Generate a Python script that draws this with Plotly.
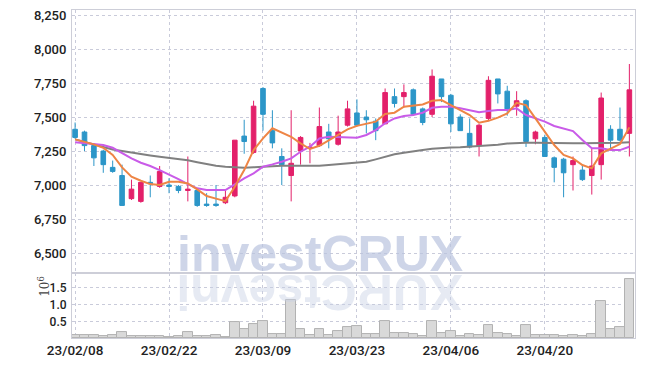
import plotly.graph_objects as go
from plotly.subplots import make_subplots

dates = ["23/02/08","23/02/09","23/02/10","23/02/13","23/02/14","23/02/15","23/02/16","23/02/17","23/02/20","23/02/21",
         "23/02/22","23/02/23","23/02/24","23/02/27","23/02/28","23/03/02","23/03/03","23/03/06","23/03/07","23/03/08",
         "23/03/09","23/03/10","23/03/13","23/03/14","23/03/15","23/03/16","23/03/17","23/03/20","23/03/21","23/03/22",
         "23/03/23","23/03/24","23/03/27","23/03/28","23/03/29","23/03/30","23/03/31","23/04/03","23/04/04","23/04/05",
         "23/04/06","23/04/07","23/04/10","23/04/11","23/04/12","23/04/13","23/04/14","23/04/17","23/04/18","23/04/19",
         "23/04/20","23/04/21","23/04/24","23/04/25","23/04/26","23/04/27","23/04/28","23/05/02","23/05/03","23/05/04"]

open_ = [7410,7390,7290,7250,7130,7070,6900,6880,7020,6990,7000,6990,6960,6960,6860,6860,6870,6920,7360,7240,
         7710,7400,7210,7070,7250,7270,7290,7390,7300,7440,7530,7500,7470,7450,7650,7650,7700,7560,7520,7780,
         7660,7500,7380,7290,7490,7780,7690,7580,7620,7340,7350,7200,7190,7150,7110,7070,7150,7410,7410,7380]
high = [7460,7400,7300,7260,7180,7150,7040,7020,7070,7140,7050,7000,7210,6970,6940,7000,6960,7330,7480,7620,
        7720,7550,7270,7550,7360,7310,7570,7450,7510,7620,7630,7550,7490,7710,7710,7740,7710,7570,7850,7780,
        7670,7520,7490,7450,7800,7780,7730,7690,7630,7400,7370,7210,7200,7210,7150,7270,7680,7440,7570,7890]
low = [7340,7250,7140,7090,7090,6850,6890,6870,6910,6980,6940,6940,6880,6840,6840,6840,6860,6910,7230,7230,
       7400,7270,7000,6880,7150,7160,7280,7270,7290,7430,7430,7380,7330,7450,7570,7570,7510,7440,7500,7610,
       7390,7400,7270,7210,7470,7600,7510,7510,7280,7300,7210,7020,6910,6960,7030,6930,7040,7260,7320,7210]
close = [7350,7290,7200,7150,7100,6850,6970,7020,7010,7100,6990,6960,6970,6850,6850,6850,6910,7330,7320,7580,
         7520,7310,7150,7160,7350,7280,7430,7340,7390,7560,7440,7480,7400,7680,7600,7680,7520,7460,7800,7650,
         7450,7400,7280,7440,7770,7670,7560,7620,7320,7390,7210,7130,7090,7180,7040,7140,7640,7330,7330,7700]

ma5 = [7336,7318,7299,7274,7221,7130,7061,7032,7007,7000,7024,7024,7012,6968,6919,6900,6882,6988,7110,7257,
       7343,7417,7387,7355,7307,7265,7289,7331,7368,7410,7435,7449,7466,7522,7532,7576,7586,7593,7620,7625,
       7588,7551,7515,7458,7472,7496,7527,7605,7588,7490,7392,7294,7221,7196,7147,7123,7233,7270,7301,7424]
ma10 = [7314,7307,7299,7294,7274,7233,7196,7164,7140,7110,7079,7044,7007,6976,6963,6965,6963,7005,7049,7086,
        7135,7152,7171,7196,7245,7282,7343,7355,7353,7353,7348,7368,7404,7454,7490,7507,7515,7532,7568,7576,
        7576,7564,7551,7535,7544,7551,7551,7564,7515,7490,7466,7434,7417,7397,7331,7270,7270,7257,7257,7282]
ma_long = [7336,7316,7296,7280,7262,7250,7238,7228,7218,7208,7200,7190,7182,7168,7154,7142,7134,7128,7127,7130,
           7135,7140,7142,7142,7142,7140,7142,7147,7152,7157,7162,7171,7189,7208,7226,7238,7245,7257,7267,7274,
           7277,7278,7282,7287,7292,7296,7305,7309,7311,7311,7309,7307,7307,7307,7307,7307,7309,7311,7311,7314]

volume_m = [0.09,0.09,0.09,0.05,0.09,0.18,0.05,0.05,0.05,0.05,0.04,0.05,0.18,0.05,0.05,0.08,0.03,0.47,0.28,0.41,
            0.50,0.13,0.13,1.14,0.28,0.10,0.28,0.10,0.22,0.32,0.35,0.13,0.13,0.50,0.16,0.16,0.12,0.06,0.52,0.16,
            0.20,0.06,0.13,0.10,0.38,0.16,0.13,0.07,0.38,0.10,0.10,0.10,0.05,0.10,0.05,0.13,1.11,0.26,0.33,1.78]

price_ticks = [6500,6750,7000,7250,7500,7750,8000,8250]
vol_ticks = [0.5,1.0,1.5]
vol_tick_text = ["0.5","1.0","1.5"]
date_tick_idx = [0,10,20,30,40,50]

RED = "#E3206A"
BLUE = "#2C96C8"
GRID = "#C9CBDA"
AXIS = "#CDCED8"
FAM = "Roboto, Liberation Sans, sans-serif"

fig = make_subplots(rows=2, cols=1, shared_xaxes=True, vertical_spacing=0, row_heights=[0.802, 0.198])

fig.add_trace(go.Candlestick(
    x=dates, open=open_, high=high, low=low, close=close,
    increasing=dict(line=dict(color=RED, width=1), fillcolor=RED),
    decreasing=dict(line=dict(color=BLUE, width=1), fillcolor=BLUE),
    whiskerwidth=0, showlegend=False, hoverinfo="skip"), row=1, col=1)

fig.add_trace(go.Scatter(x=dates, y=ma_long, mode="lines", line=dict(color="#808080", width=2),
                         showlegend=False, hoverinfo="skip"), row=1, col=1)
fig.add_trace(go.Scatter(x=dates, y=ma10, mode="lines", line=dict(color="#C95BE8", width=2),
                         showlegend=False, hoverinfo="skip"), row=1, col=1)
fig.add_trace(go.Scatter(x=dates, y=ma5, mode="lines", line=dict(color="#EE8545", width=2),
                         showlegend=False, hoverinfo="skip"), row=1, col=1)

fig.add_trace(go.Bar(x=dates, y=volume_m, marker=dict(color="#D9D9D9", line=dict(color="#B2B2B2", width=1)),
                     showlegend=False, hoverinfo="skip"), row=2, col=1)

xr = [-0.33, 59.6]
fig.update_xaxes(type="category", range=xr, showgrid=True, gridcolor=GRID, griddash="dot", gridwidth=1,
                 tickvals=[dates[i] for i in date_tick_idx], ticktext=[dates[i] for i in date_tick_idx],
                 showline=True, linecolor=AXIS, mirror=True, ticks="", zeroline=False, automargin=False,
                 rangeslider=dict(visible=False), ticklabeloverflow="allow",
                 tickfont=dict(family=FAM, size=13.5, color="#222222", weight=500))
fig.update_xaxes(showticklabels=False, row=1, col=1)

fig.update_yaxes(range=[6353, 8287], tickvals=price_ticks, tickformat=",d", showgrid=True, gridcolor=GRID,
                 griddash="dot", showline=True, linecolor=AXIS, mirror=True, zeroline=False, ticks="",
                 automargin=False, ticklabelstandoff=2, ticklabeloverflow="allow",
                 tickfont=dict(family=FAM, size=13, color="#222222", weight=500), row=1, col=1)
fig.update_yaxes(range=[0, 1.945], tickvals=vol_ticks, ticktext=vol_tick_text,
                 showgrid=True, gridcolor=GRID, griddash="dot", showline=True, linecolor=AXIS, mirror=True,
                 zeroline=False, ticks="", automargin=False, ticklabelstandoff=2, ticklabeloverflow="allow",
                 tickfont=dict(family=FAM, size=12, color="#222222", weight=500), row=2, col=1)

fig.add_annotation(text="10<sup>6</sup>", xref="paper", yref="paper", x=-0.068, y=0.12, textangle=-90,
                   showarrow=False, font=dict(family="DejaVu Serif, serif", size=12, color="#444444"))

fig.add_annotation(text="<b>investCRUX</b>", xref="paper", yref="paper", x=0.44, y=0.198,
                   xanchor="center", yanchor="bottom", yshift=-11, showarrow=False,
                   font=dict(family="Liberation Sans, Arial, sans-serif", size=50, color="rgba(185,195,222,0.7)"))
fig.add_annotation(text="<b>XURCtsevni</b>", xref="paper", yref="paper", x=0.44, y=0.198,
                   xanchor="center", yanchor="top", yshift=11, textangle=180, showarrow=False,
                   font=dict(family="Liberation Sans, Arial, sans-serif", size=50, color="rgba(200,208,228,0.45)"))

# page body keeps its default 8px margin, so the figure is sized/offset to land on the reference pixels
fig.update_layout(width=637, height=359, margin=dict(l=64, r=9.5, t=2, b=29),
                  paper_bgcolor="white", plot_bgcolor="white", bargap=0, showlegend=False)

fig.write_html("out.html")
